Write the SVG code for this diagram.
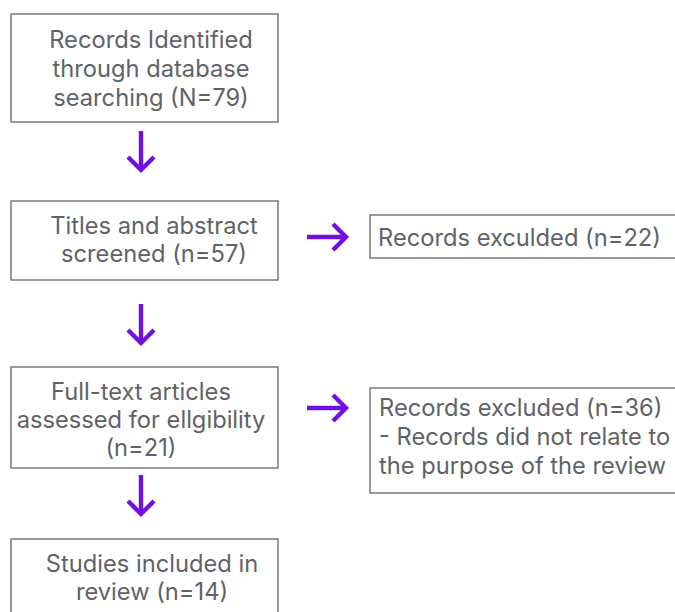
<svg xmlns="http://www.w3.org/2000/svg" width="675" height="612" viewBox="0 0 675 612">
<style>
.box{fill:#fff;stroke:#666;stroke-width:1.3}
.t{font-family:Inter,"Liberation Sans",sans-serif;font-size:23.7px;fill:#5f6368}
.c{text-anchor:middle}
.arr{fill:none;stroke:#7010e0;stroke-width:4.4;stroke-linecap:butt}
</style>
<rect width="675" height="612" fill="#fff"/>
<g id="n1"><rect class="box" x="11" y="14" width="267" height="108"/>
<text class="t c" x="151" y="48">Records Identified</text>
<text class="t c" x="151" y="77">through database</text>
<text class="t c" x="151" y="106">searching (N=79)</text></g>
<g id="n2"><rect class="box" x="11" y="201" width="267" height="79"/>
<text class="t c" x="154" y="234">Titles and abstract</text>
<text class="t c" x="154" y="262">screened (n=57)</text></g>
<g id="n3"><rect class="box" x="11" y="367" width="267" height="101"/>
<text class="t c" x="141" y="400">Full-text articles</text>
<text class="t c" x="141" y="428">assessed for ellgibility</text>
<text class="t c" x="141" y="456">(n=21)</text></g>
<g id="n4"><rect class="box" x="11" y="539" width="267" height="80"/>
<text class="t c" x="152" y="572">Studies included in</text>
<text class="t c" x="152" y="600">review (n=14)</text></g>
<g id="n5"><rect class="box" x="370" y="215" width="310" height="43"/>
<text class="t" x="378" y="246">Records exculded (n=22)</text></g>
<g id="n6"><rect class="box" x="370" y="388" width="310" height="105"/>
<text class="t" x="379" y="416">Records excluded (n=36)</text>
<text class="t" x="379" y="445">- Records did not relate to</text>
<text class="t" x="379" y="474">the purpose of the review</text></g>
<g id="connectors">
<path class="arr" d="M141 131V170M128 157L141 170L154 157"/>
<path class="arr" d="M141 304V343M128 330L141 343L154 330"/>
<path class="arr" d="M141 475V514M128 501L141 514L154 501"/>
<path class="arr" d="M307 237H346M333 224L346 237L333 250"/>
<path class="arr" d="M307 408H346M333 395L346 408L333 421"/>
</g>
</svg>
